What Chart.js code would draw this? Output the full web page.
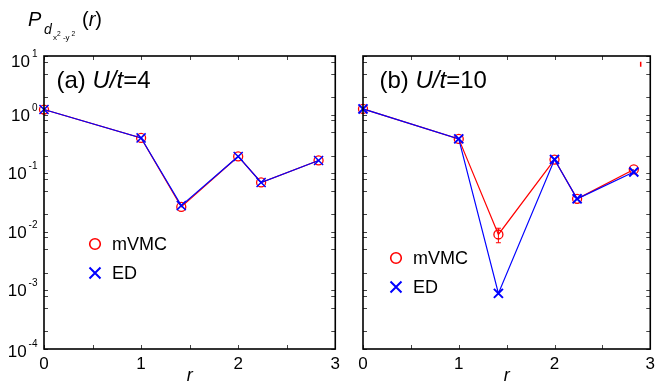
<!DOCTYPE html>
<html>
<head>
<meta charset="utf-8">
<script src="https://cdn.jsdelivr.net/npm/chart.js@4.4.1/dist/chart.umd.min.js"></script>
<style>
  html, body { margin: 0; padding: 0; background: #fff; overflow: hidden; }
  #wrap { position: relative; width: 660px; height: 386px; font-family: "Liberation Sans", Arial, sans-serif; }
  canvas { position: absolute; top: 0; }
  #panelA { left: 0; }
  #panelB { left: 345px; }
  .lbl { position: absolute; color: #000; white-space: nowrap; line-height: 1; }
</style>
</head>
<body>
<div id="wrap">
  <canvas id="panelA" width="345" height="386"></canvas>
  <canvas id="panelB" width="315" height="386"></canvas>
  <div class="lbl" style="left:28px;top:9px;font-size:20px;font-style:italic;">P</div>
  <div class="lbl" style="left:44px;top:22px;font-size:14px;font-style:italic;">d</div>
  <div class="lbl" style="left:53px;top:31px;font-size:8px;">x<sup>2</sup> -y<sup> 2</sup></div>
  <div class="lbl" style="left:82px;top:9px;font-size:20px;">(<i>r</i>)</div>
</div>
<script>
// distances r on the lattice
const rVals = [0, 1, 1.414, 2, 2.236, 2.828];

// (a) U/t=4
const vmcA = [1.22, 0.40, 0.0266, 0.193, 0.0695, 0.165];
const edA  = [1.22, 0.40, 0.0280, 0.193, 0.0695, 0.165];
const errA = [0, 0, 0, 0, 0, 0];

// (b) U/t=10
const vmcB = [1.25, 0.385, 0.0090, 0.171, 0.0365, 0.116];
const edB  = [1.25, 0.385, 0.00089, 0.171, 0.0365, 0.105];
const errB = [0, 0, 0.0025, 0, 0, 0];

// stray error-bar fragment near the top right of (b)
const strayR = [2.9];
const strayP = [7.2];

const xTicks = [0, 0.5, 1, 1.5, 2, 2.5, 3];
const decades = [-4, -3, -2, -1, 0, 1];
const minorMul = [2, 5, 8];

const FONT = '"Liberation Sans", Arial, sans-serif';
const RED = '#ff0000';
const BLUE = '#0000ff';

function pts(ys) {
  return rVals.map((r, i) => ({ x: r, y: ys[i] }));
}

// box with inward ticks on all four sides
const framePlugin = {
  id: 'frame',
  afterDraw(chart) {
    const { ctx, chartArea: a, scales } = chart;
    ctx.save();
    ctx.strokeStyle = '#444';
    ctx.lineWidth = 1;
    ctx.beginPath();
    scales.x.ticks.forEach(t => {
      const px = Math.round(scales.x.getPixelForValue(t.value)) + 0.5;
      ctx.moveTo(px, a.bottom); ctx.lineTo(px, a.bottom - 4);
      ctx.moveTo(px, a.top); ctx.lineTo(px, a.top + 4);
    });
    scales.y.ticks.forEach(t => {
      const py = Math.round(scales.y.getPixelForValue(t.value)) + 0.5;
      ctx.moveTo(a.left, py); ctx.lineTo(a.left + 4, py);
      ctx.moveTo(a.right, py); ctx.lineTo(a.right - 4, py);
    });
    ctx.stroke();
    ctx.strokeStyle = '#000';
    ctx.lineWidth = 1.6;
    ctx.strokeRect(a.left, a.top, a.right - a.left, a.bottom - a.top);
    ctx.restore();
  }
};

// vertical error bars on the mVMC points
const errorPlugin = {
  id: 'errbars',
  afterDatasetsDraw(chart, args, opts) {
    const { ctx, scales } = chart;
    ctx.save();
    ctx.strokeStyle = RED;
    ctx.lineWidth = 1;
    ctx.beginPath();
    opts.err.forEach((e, i) => {
      if (!e) return;
      const px = scales.x.getPixelForValue(rVals[i]);
      const y1 = scales.y.getPixelForValue(opts.vals[i] + e);
      const y2 = scales.y.getPixelForValue(opts.vals[i] - e);
      ctx.moveTo(px, y1); ctx.lineTo(px, y2);
      ctx.moveTo(px - 2.5, y1); ctx.lineTo(px + 2.5, y1);
      ctx.moveTo(px - 2.5, y2); ctx.lineTo(px + 2.5, y2);
    });
    ctx.stroke();
    ctx.restore();
  }
};

// panel caption and the in-plot legend
const annotPlugin = {
  id: 'annot',
  afterDraw(chart, args, o) {
    const { ctx, chartArea: a } = chart;
    ctx.save();
    ctx.fillStyle = '#000';
    ctx.textBaseline = 'alphabetic';
    let x = a.left + o.capDx;
    const y = 88;
    const parts = [[o.tag + ' ', ''], ['U/t', 'italic '], ['=' + o.ut, '']];
    parts.forEach(([s, st]) => {
      ctx.font = st + '24px ' + FONT;
      ctx.fillText(s, x, y);
      x += ctx.measureText(s).width;
    });

    // legend
    const lx = o.legX, ly = o.legY;
    ctx.lineWidth = 1.6;
    ctx.strokeStyle = RED;
    ctx.beginPath();
    ctx.arc(lx, ly, 5.3, 0, Math.PI * 2);
    ctx.stroke();
    ctx.strokeStyle = BLUE;
    ctx.lineWidth = 2;
    ctx.beginPath();
    ctx.moveTo(lx - 5.5, ly + 29 - 5.5); ctx.lineTo(lx + 5.5, ly + 29 + 5.5);
    ctx.moveTo(lx + 5.5, ly + 29 - 5.5); ctx.lineTo(lx - 5.5, ly + 29 + 5.5);
    ctx.stroke();
    ctx.font = '18px ' + FONT;
    ctx.textBaseline = 'middle';
    ctx.fillText('mVMC', lx + 17, ly + 1);
    ctx.fillText('ED', lx + 17, ly + 30);
    ctx.restore();
  }
};

// 10^n labels on the left axis
const powLabels = {
  id: 'powLabels',
  afterDraw(chart) {
    const { ctx, scales } = chart;
    ctx.save();
    ctx.fillStyle = '#000';
    ctx.textBaseline = 'alphabetic';
    decades.forEach(e => {
      const py = scales.y.getPixelForValue(Math.pow(10, e));
      const base = e === 1 ? py + 11 : (e === -4 ? py + 8 : py + 6);
      const ex = String(e);
      ctx.font = '10px ' + FONT;
      const we = ctx.measureText(ex).width;
      const exX = 37.5 - we;
      ctx.fillText(ex, exX, base - 10);
      ctx.font = '17px ' + FONT;
      ctx.textAlign = 'right';
      ctx.fillText('10', exX - 2, base);
      ctx.textAlign = 'left';
    });
    ctx.restore();
  }
};

function makePanel(id, cfg) {
  const datasets = [
    {
      label: 'ED', data: pts(cfg.ed), order: 0, clip: false,
      borderColor: BLUE, borderWidth: 1.2, tension: 0,
      pointStyle: 'crossRot', pointRadius: 6.4, pointBorderWidth: cfg.crossW,
      pointBorderColor: BLUE, pointBackgroundColor: BLUE
    },
    {
      label: 'mVMC', data: pts(cfg.vmc), order: 1, clip: false,
      borderColor: RED, borderWidth: 1.2, tension: 0,
      pointStyle: 'circle', pointRadius: 4.5, pointBorderWidth: 1.3,
      pointBorderColor: RED, pointBackgroundColor: 'rgba(0,0,0,0)'
    }
  ];
  if (cfg.stray) {
    datasets.push({
      label: '', data: strayR.map((r, i) => ({ x: r, y: strayP[i] })), order: 2,
      showLine: false, pointStyle: 'line', rotation: 90, pointRadius: 2.5,
      pointBorderWidth: 1.5, pointBorderColor: RED
    });
  }
  const plugins = [framePlugin, errorPlugin, annotPlugin];
  if (cfg.yLabels) plugins.push(powLabels);

  new Chart(document.getElementById(id), {
    type: 'line',
    data: { datasets },
    options: {
      responsive: false,
      animation: false,
      events: [],
      layout: { padding: { left: 0, top: 56, right: cfg.padR, bottom: 0 } },
      plugins: {
        legend: { display: false },
        tooltip: { enabled: false },
        errbars: { vals: cfg.vmc, err: cfg.err },
        annot: cfg.annot
      },
      scales: {
        x: {
          type: 'linear', min: 0, max: 3,
          afterBuildTicks: s => { s.ticks = xTicks.map(v => ({ value: v })); },
          afterFit: s => { s.height = 37; },
          grid: { display: false, drawTicks: false },
          border: { display: false },
          ticks: {
            padding: 5, autoSkip: false, maxRotation: 0, color: '#000',
            font: { family: FONT, size: 17 },
            callback: v => (Number.isInteger(v) ? String(v) : '')
          },
          title: {
            display: true, text: 'r', color: '#000', padding: { top: 0, bottom: -1 },
            font: { family: FONT, size: 18, style: 'italic' }
          }
        },
        y: {
          type: 'logarithmic', min: 1e-4, max: 10,
          afterBuildTicks: s => {
            const t = [];
            decades.forEach(e => {
              t.push({ value: Math.pow(10, e), major: true });
              if (e < 1) minorMul.forEach(m => t.push({ value: m * Math.pow(10, e) }));
            });
            s.ticks = t;
          },
          afterFit: s => { s.width = cfg.axisW; },
          grid: { display: false, drawTicks: false },
          border: { display: false },
          ticks: { display: false }
        }
      }
    },
    plugins
  });
}

makePanel('panelA', {
  vmc: vmcA, ed: edA, err: errA, padR: 6, axisW: 44, yLabels: true, crossW: 1.5,
  annot: { tag: '(a)', ut: '4', capDx: 12.5, legX: 95, legY: 244 }
});
makePanel('panelB', {
  vmc: vmcB, ed: edB, err: errB, padR: 4, axisW: 18, yLabels: false, crossW: 2, stray: true,
  annot: { tag: '(b)', ut: '10', capDx: 16.5, legX: 51, legY: 258 }
});
</script>
</body>
</html>
